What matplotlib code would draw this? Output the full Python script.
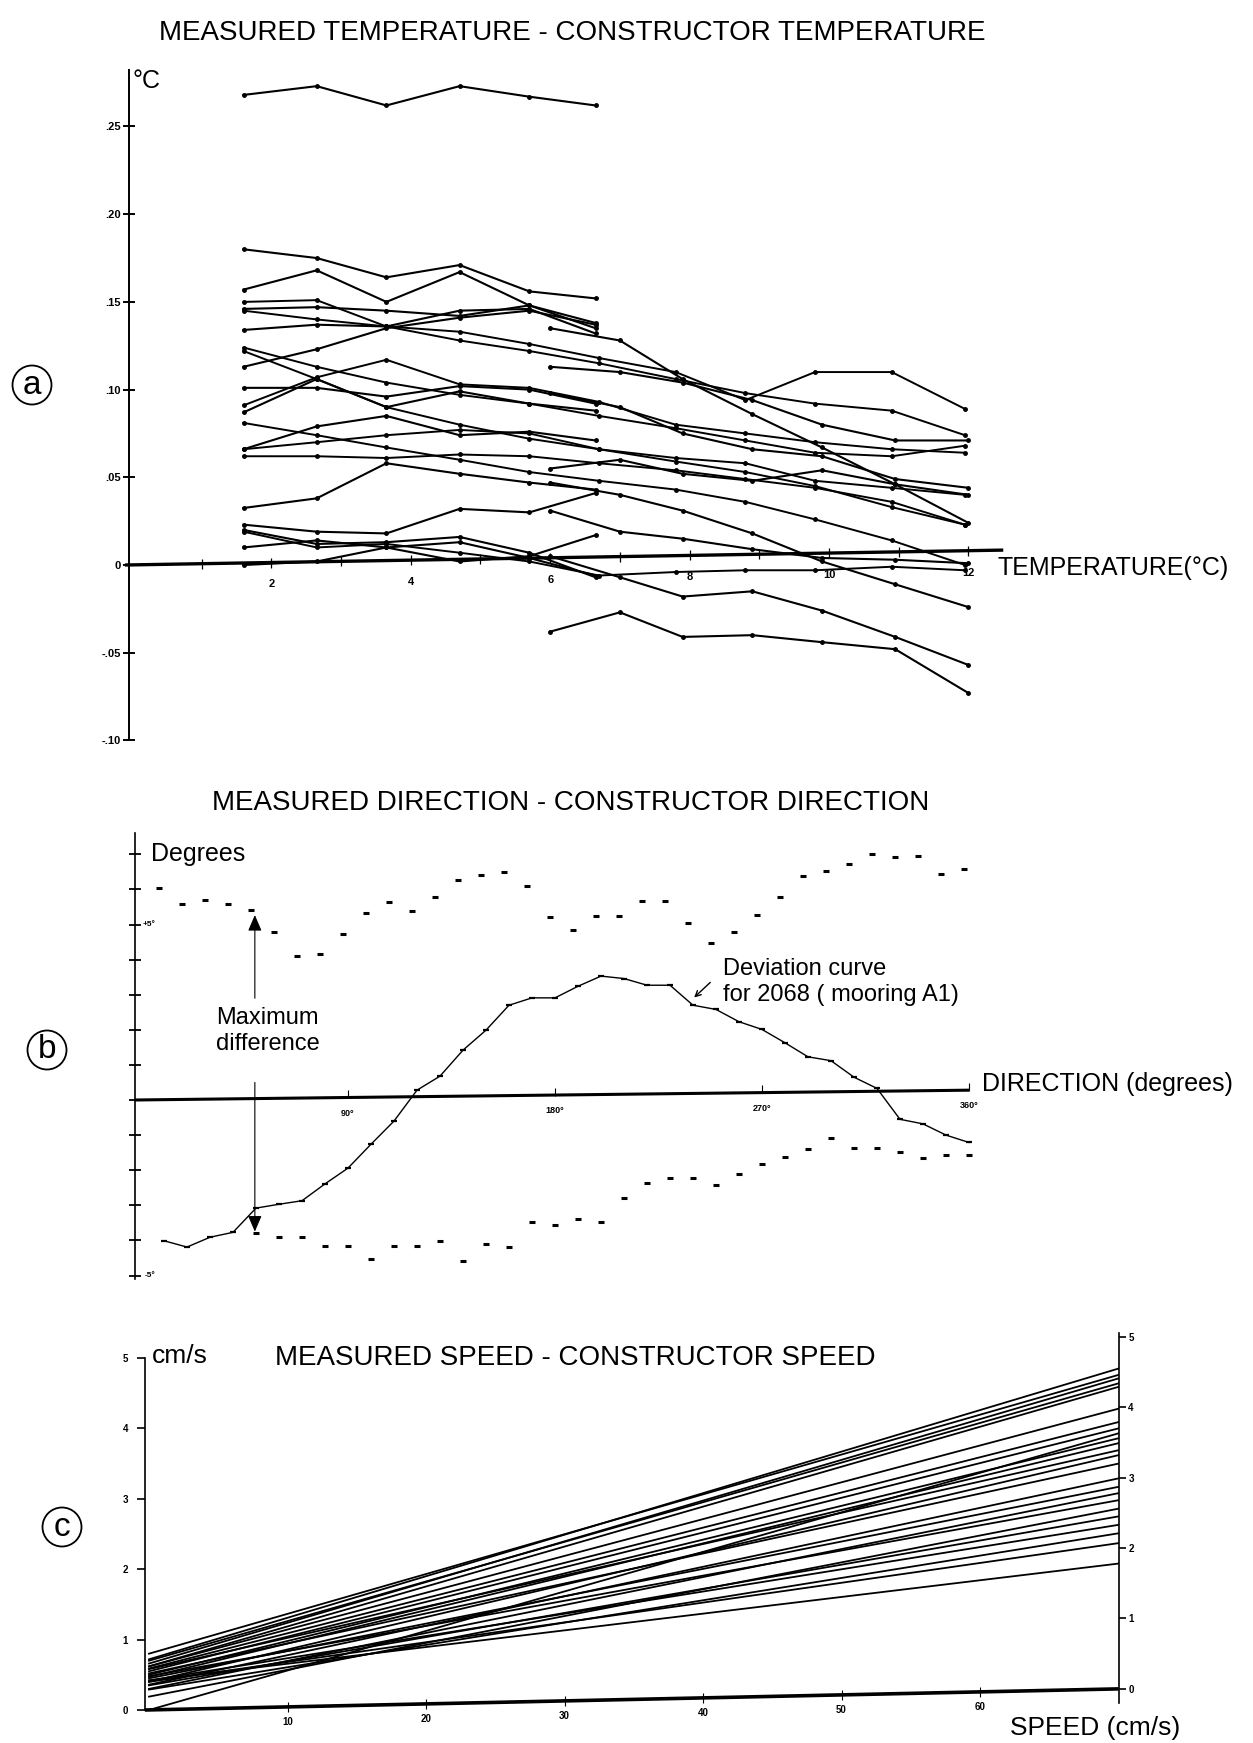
import numpy as np
import matplotlib
matplotlib.use("Agg")
import matplotlib.pyplot as plt

plt.rcParams['font.family'] = ['Liberation Sans', 'DejaVu Sans']

W, H = 1253, 1743

# ---------------- (a) temperature ----------------
TEMP_X_LEFT = [1.6, 2.65, 3.65, 4.7, 5.7, 6.65]
TEMP_X_FULL = [1.6, 2.65, 3.65, 4.7, 5.7, 6.7, 7.8, 8.8, 9.8, 10.9, 11.95]
TEMP_X_RIGHT = [6.0, 7.0, 7.9, 8.9, 9.9, 10.95, 12.0]

# sensors measured only over the cold range
TEMP_LEFT = [
    [0.268, 0.273, 0.262, 0.273, 0.267, 0.262],
    [0.180, 0.175, 0.164, 0.171, 0.156, 0.152],
    [0.157, 0.168, 0.150, 0.167, 0.148, 0.138],
    [0.146, 0.147, 0.145, 0.142, 0.148, 0.135],
    [0.134, 0.137, 0.136, 0.145, 0.146, 0.132],
    [0.113, 0.123, 0.135, 0.141, 0.145, 0.137],
    [0.101, 0.101, 0.096, 0.102, 0.100, 0.092],
    [0.087, 0.106, 0.090, 0.099, 0.092, 0.088],
    [0.066, 0.079, 0.085, 0.074, 0.076, 0.071],
    [0.0325, 0.038, 0.058, 0.052, 0.047, 0.043],
    [0.023, 0.019, 0.018, 0.032, 0.030, 0.041],
    [0.020, 0.012, 0.013, 0.016, 0.007, -0.007],
    [0.010, 0.014, 0.010, 0.013, 0.004, -0.006],
    [0.000, 0.002, 0.010, 0.002, 0.005, 0.017],
]
# sensors over the whole range
TEMP_FULL = [
    [0.150, 0.151, 0.136, 0.128, 0.122, 0.115, 0.106, 0.098, 0.092, 0.088, 0.074],
    [0.145, 0.140, 0.136, 0.133, 0.126, 0.118, 0.110, 0.094, 0.110, 0.110, 0.089],
    [0.124, 0.113, 0.104, 0.097, 0.092, 0.085, 0.078, 0.071, 0.064, 0.062, 0.068],
    [0.122, 0.106, 0.090, 0.080, 0.072, 0.066, 0.059, 0.053, 0.045, 0.033, 0.023],
    [0.091, 0.107, 0.117, 0.103, 0.101, 0.093, 0.080, 0.075, 0.070, 0.066, 0.064],
    [0.081, 0.074, 0.067, 0.060, 0.053, 0.048, 0.043, 0.036, 0.026, 0.014, 0.000],
    [0.066, 0.070, 0.074, 0.077, 0.075, 0.066, 0.061, 0.058, 0.048, 0.044, 0.040],
    [0.062, 0.062, 0.061, 0.063, 0.062, 0.058, 0.054, 0.049, 0.044, 0.036, 0.023],
    [0.019, 0.010, 0.012, 0.007, 0.002, -0.006, -0.004, -0.003, -0.003, -0.001, -0.003],
]
# sensors over the warm range
TEMP_RIGHT = [
    [-0.038, -0.027, -0.041, -0.040, -0.044, -0.048, -0.073],
    [0.005, -0.007, -0.018, -0.015, -0.026, -0.041, -0.057],
    [0.135, 0.128, 0.106, 0.086, 0.067, 0.046, 0.024],
    [0.113, 0.110, 0.104, 0.094, 0.080, 0.071, 0.071],
    [0.047, 0.040, 0.031, 0.018, 0.002, -0.011, -0.024],
    [0.031, 0.019, 0.015, 0.009, 0.004, 0.003, 0.001],
    [0.055, 0.060, 0.052, 0.048, 0.054, 0.046, 0.040],
    [0.098, 0.090, 0.075, 0.066, 0.062, 0.049, 0.044],
]
TEMP_AXIS_T = [-0.1, 12.5]          # zero line (scan is slightly rotated)
TEMP_AXIS_V = [0.0, 0.0085]
TEMP_YTICKS = [-0.10, -0.05, 0.0, 0.05, 0.10, 0.15, 0.20, 0.25]
TEMP_YLABELS = ['-.10', '-.05', '0', '.05', '.10', '.15', '.20', '.25']
TEMP_XTICKS = list(range(1, 13))
TEMP_XLABELS = [2, 4, 6, 8, 10, 12]

# ---------------- (b) direction ----------------
DIR_X = list(range(10, 361, 10))
DIR_DEV = [-4.01, -4.19, -3.91, -3.77, -3.08, -2.97, -2.87, -2.39, -1.94, -1.26,
           -0.60, 0.28, 0.68, 1.42, 1.99, 2.70, 2.91, 2.91, 3.24, 3.53,
           3.46, 3.27, 3.27, 2.70, 2.58, 2.23, 2.01, 1.63, 1.23, 1.12,
           0.65, 0.33, -0.55, -0.68, -1.00, -1.21]
UPPER_X = list(range(8, 359, 10))
UPPER_DEV = [6.05, 5.58, 5.71, 5.58, 5.41, 4.79, 4.10, 4.16, 4.72, 5.33,
             5.65, 5.38, 5.79, 6.26, 6.40, 6.49, 6.11, 5.22, 4.84, 5.24,
             5.24, 5.66, 5.66, 5.05, 4.48, 4.79, 5.28, 5.79, 6.38, 6.53,
             6.72, 7.02, 6.93, 6.95, 6.45, 6.57]
LOWER_X = list(range(50, 361, 10))
LOWER_DEV = [-3.80, -3.91, -3.91, -4.16, -4.16, -4.54, -4.16, -4.16, -4.03, -4.60,
             -4.10, -4.19, -3.49, -3.56, -3.39, -3.48, -2.78, -2.37, -2.23, -2.23,
             -2.42, -2.12, -1.82, -1.61, -1.40, -1.09, -1.38, -1.38, -1.47, -1.66,
             -1.57, -1.57]
DIR_AXIS_D = [-2.6, 360]
DIR_AXIS_V = [0.0, 0.28]
DIR_XTICKS = [90, 180, 270, 360]

# ---------------- (c) speed ----------------
SPEED_X = [0, 70]
SPEED_START = [0.72, 0.80, 0.66, 0.70, 0.62, 0.62, 0.59, 0.55, 0.00, 0.50, 0.47, 0.58,
               0.40, 0.52, 0.36, 0.45, 0.30, 0.48, 0.19, 0.35, 0.42, 0.29, 0.40, 0.42]
SPEED_END = [4.85, 4.76, 4.71, 4.64, 4.59, 4.28, 4.09, 4.00, 3.93, 3.86, 3.79, 3.69,
             3.62, 3.50, 3.29, 3.17, 3.08, 2.98, 2.86, 2.75, 2.63, 2.51, 2.37, 2.08]
SPEED_AXIS_S = [-0.3, 70]
SPEED_AXIS_V = [0.0, 0.30]
SPEED_XTICKS = [10, 20, 30, 40, 50, 60]
RIGHT_SHIFT = 0.30


def panel(fig, box, x_cal, y_cal):
    # box in pixels (left, top, right, bottom); cal: pixel = p0 + k*value
    left, top, right, bottom = box
    x0, kx = x_cal
    y0, ky = y_cal
    ax = fig.add_axes([left / W, 1 - bottom / H, (right - left) / W, (bottom - top) / H])
    ax.set_xlim((left - x0) / kx, (right - x0) / kx)
    ax.set_ylim((y0 - bottom) / ky, (y0 - top) / ky)
    ax.patch.set_alpha(0)
    for s in ax.spines.values():
        s.set_visible(False)
    ax.set_xticks([])
    ax.set_yticks([])
    return ax


def circled(fig, x, y, letter):
    fig.text(x / W, 1 - y / H, letter, fontsize=24, ha='center', va='center',
             bbox=dict(boxstyle='circle,pad=0.12', fc='white', ec='black', lw=1.3))


fig = plt.figure(figsize=(W / 100, H / 100), dpi=100)
fig.patch.set_facecolor('white')

# ===== panel a =====
ax = panel(fig, (60, 50, 1010, 760), (132, 69.7), (565, 1754))
ax.spines['left'].set_visible(True)
ax.spines['left'].set_position(('data', -0.05))
ax.spines['left'].set_bounds(-0.10, 0.282)
ax.spines['left'].set_linewidth(1.4)
ax.set_yticks(TEMP_YTICKS)
ax.set_yticklabels(TEMP_YLABELS, fontweight='bold')
ax.tick_params(axis='y', direction='inout', length=9, width=1.4, labelsize=8, pad=1)

for ys in TEMP_LEFT:
    ax.plot(TEMP_X_LEFT, ys, '-', color='black', lw=1.5, marker='o', ms=2.5)
for ys in TEMP_FULL:
    ax.plot(TEMP_X_FULL, ys, '-', color='black', lw=1.4, marker='o', ms=2.5)
for ys in TEMP_RIGHT:
    ax.plot(TEMP_X_RIGHT, ys, '-', color='black', lw=1.5, marker='o', ms=2.5)

ax.plot(TEMP_AXIS_T, TEMP_AXIS_V, color='black', lw=2.4, solid_capstyle='butt')
tick_v = np.interp(TEMP_XTICKS, TEMP_AXIS_T, TEMP_AXIS_V)
ax.plot(TEMP_XTICKS, tick_v, ls='none', marker='|', ms=7, mew=0.9, color='black')
for t in TEMP_XLABELS:
    v = np.interp(t, TEMP_AXIS_T, TEMP_AXIS_V)
    ax.text(t, v - 0.0125, str(t), ha='center', va='center', fontsize=8,
            fontweight='bold')

ax.text(0.0, 0.276, '°C', ha='left', va='center', fontsize=18)
ax.text(12.42, -0.0017, 'TEMPERATURE(°C)', ha='left', va='center', fontsize=18)
fig.text(572 / W, 1 - 33 / H, 'MEASURED TEMPERATURE - CONSTRUCTOR TEMPERATURE',
         ha='center', va='center', fontsize=20)
circled(fig, 32, 385, 'a')

# ===== panel b =====
bx = panel(fig, (60, 820, 1000, 1300), (141, 2.3), (1100, 35.1))
bx.spines['left'].set_visible(True)
bx.spines['left'].set_position(('data', -2.6))
bx.spines['left'].set_bounds(-5.1, 7.6)
bx.spines['left'].set_linewidth(1.2)
bx.set_yticks(list(range(-5, 8)))
bx.set_yticklabels([])
bx.tick_params(axis='y', direction='inout', length=8, width=1.3)

bx.plot(DIR_AXIS_D, DIR_AXIS_V, color='black', lw=2.2, solid_capstyle='butt')
tick_v = np.interp(DIR_XTICKS, DIR_AXIS_D, DIR_AXIS_V)
bx.plot(DIR_XTICKS, tick_v + 0.1, ls='none', marker='|', ms=6, mew=0.8, color='black')
for d in DIR_XTICKS:
    v = np.interp(d, DIR_AXIS_D, DIR_AXIS_V)
    bx.text(d, v - 0.45, f'{d}°', ha='center', va='center', fontsize=6.5,
            fontweight='bold')

bx.plot(DIR_X, DIR_DEV, '-', color='black', lw=1.0, marker='_', ms=4, mew=1.6)
bx.plot(UPPER_X, UPPER_DEV, ls='none', marker='_', ms=5, mew=2.2, color='black')
bx.plot(LOWER_X, LOWER_DEV, ls='none', marker='_', ms=5, mew=2.2, color='black')

arrow = dict(arrowstyle='-|>,head_length=0.7,head_width=0.3', color='black',
             lw=0.8, mutation_scale=14, shrinkA=0, shrinkB=0)
bx.annotate('', xy=(49.5, 5.27), xytext=(49.5, 2.9), arrowprops=arrow)
bx.annotate('', xy=(49.5, -3.75), xytext=(49.5, 0.5), arrowprops=arrow)
bx.text(55, 1.97, 'Maximum\ndifference', ha='center', va='center', fontsize=17)

bx.annotate('', xy=(240.5, 2.92), xytext=(247.5, 3.35),
            arrowprops=dict(arrowstyle='->', color='black', lw=1.0,
                            mutation_scale=10, shrinkA=0, shrinkB=0))
bx.text(253, 3.36, 'Deviation curve\nfor 2068 ( mooring A1)', ha='left', va='center',
        fontsize=17)
bx.text(4.3, 7.0, 'Degrees', ha='left', va='center', fontsize=18)
bx.text(0.8, 5.0, '+5°', ha='left', va='center', fontsize=6, fontweight='bold')
bx.text(1.5, -5.0, '-5°', ha='left', va='center', fontsize=6, fontweight='bold')
bx.text(365.7, 0.46, 'DIRECTION (degrees)', ha='left', va='center', fontsize=18)
fig.text(571 / W, 1 - 803 / H, 'MEASURED DIRECTION - CONSTRUCTOR DIRECTION',
         ha='center', va='center', fontsize=20)
circled(fig, 47, 1050, 'b')

# ===== panel c =====
cx = panel(fig, (100, 1320, 1118.5, 1740), (149, 13.85), (1710, 70.4))
cx.spines['left'].set_visible(True)
cx.spines['left'].set_position(('data', -0.3))
cx.spines['left'].set_bounds(0, 5)
cx.spines['left'].set_linewidth(1.2)
cx.set_yticks(list(range(0, 6)))
cx.set_yticklabels([str(k) for k in range(0, 6)], fontweight='bold')
cx.tick_params(axis='y', direction='out', length=6, width=1.2, labelsize=7, pad=6)

for a, b in zip(SPEED_START, SPEED_END):
    cx.plot(SPEED_X, [a, b], '-', color='black', lw=1.3)

cx.plot(SPEED_AXIS_S, SPEED_AXIS_V, color='black', lw=2.6, solid_capstyle='butt')
tick_v = np.interp(SPEED_XTICKS, SPEED_AXIS_S, SPEED_AXIS_V)
cx.plot(SPEED_XTICKS, tick_v, ls='none', marker='|', ms=7, mew=0.8, color='black')
for s in SPEED_XTICKS:
    v = np.interp(s, SPEED_AXIS_S, SPEED_AXIS_V)
    cx.text(s, v - 0.22, str(s), ha='center', va='center', fontsize=7,
            fontweight='bold')

sec = cx.secondary_yaxis('right', functions=(lambda v: v - RIGHT_SHIFT,
                                              lambda r: r + RIGHT_SHIFT))
for name, sp in sec.spines.items():
    sp.set_visible(name == 'right')
sec.spines['right'].set_bounds(-0.2, 5.06)
sec.spines['right'].set_linewidth(1.2)
sec.set_yticks(list(range(0, 6)))
sec.set_yticklabels([str(k) for k in range(0, 6)], fontweight='bold')
sec.tick_params(axis='y', direction='out', length=5, width=1.2, labelsize=7, pad=2)

cx.text(0.2, 5.03, 'cm/s', ha='left', va='center', fontsize=19)
cx.text(62.2, -0.256, 'SPEED (cm/s)', ha='left', va='center', fontsize=19)
fig.text(575 / W, 1 - 1358 / H, 'MEASURED SPEED - CONSTRUCTOR SPEED',
         ha='center', va='center', fontsize=20)
circled(fig, 62, 1527, 'c')

fig.savefig('out.png', dpi=100, facecolor='white')
